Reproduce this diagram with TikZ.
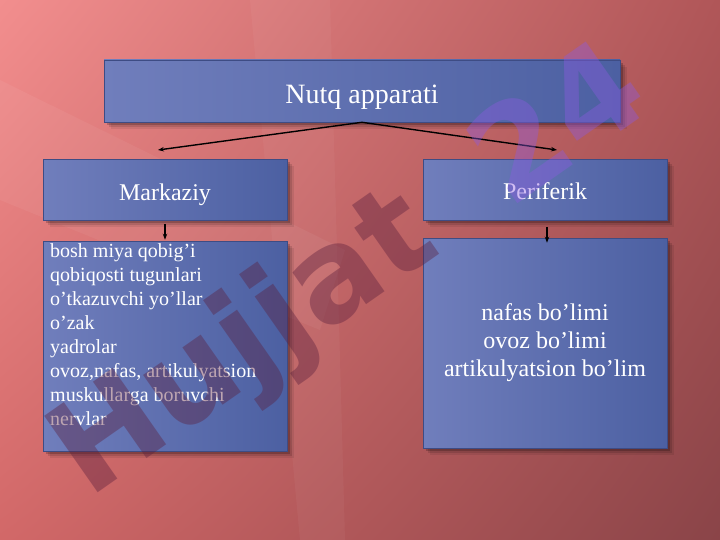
\documentclass[tikz,border=0pt]{standalone}
\usepackage{fontspec}
\setmainfont{Liberation Serif}
\newfontfamily\wmfont{DejaVu Sans}
\usetikzlibrary{arrows.meta,shadows,shadings}
\definecolor{bgUL}{RGB}{242,142,142}
\definecolor{bgUR}{RGB}{176,86,88}
\definecolor{bgLL}{RGB}{210,104,104}
\definecolor{bgLR}{RGB}{138,68,72}
\definecolor{boxL}{RGB}{112,126,188}
\definecolor{boxR}{RGB}{76,96,162}
\definecolor{boxedge}{RGB}{62,76,132}
\definecolor{wmred}{RGB}{90,30,60}
\definecolor{wmpurple}{RGB}{140,90,225}
\begin{document}
\begin{tikzpicture}[x=1pt,y=-1pt,
  box/.style={draw=boxedge, line width=0.6pt, left color=boxL, right color=boxR,
    inner sep=0pt,
    drop shadow={shadow xshift=7pt, shadow yshift=-7pt, opacity=0.08, fill=black},
    drop shadow={shadow xshift=5pt, shadow yshift=-5pt, opacity=0.12, fill=black},
    drop shadow={shadow xshift=3pt, shadow yshift=-3pt, opacity=0.2, fill=black}},
  lbl/.style={text=white, inner sep=0pt, font=\fontsize{24}{28}\selectfont},
  arr/.style={-{Stealth[length=6pt,width=4.5pt]}, line width=1.4pt, black},
  wm/.style={inner sep=0pt, font=\wmfont\bfseries\fontsize{128}{128}\selectfont}]
\useasboundingbox (0,0) rectangle (720,540);
\shade[upper left=bgUL, upper right=bgUR, lower left=bgLL, lower right=bgLR]
  (0,0) rectangle (720,540);
\fill[white, opacity=0.05] (0,80) -- (0,200) -- (320,330) -- (345,250) -- cycle;
\fill[white, opacity=0.04] (250,0) -- (330,0) -- (345,540) -- (300,540) -- cycle;

% top box
\node[box, minimum width=516pt, minimum height=62pt] (top) at (362,91) {};
\node[lbl, anchor=base, font=\fontsize{28}{32}\selectfont] (toplbl) at (362,104) {Nutq apparati};

% second level
\node[box, minimum width=244pt, minimum height=61pt] (mk) at (165,190) {};
\node[lbl, anchor=base] (mklbl) at (165,201) {Markaziy};
\node[box, minimum width=244pt, minimum height=61pt] (pf) at (545,190) {};
\node[lbl, anchor=base] (pflbl) at (545,200) {Periferik};

% third level
\node[box, minimum width=244pt, minimum height=210pt] (mkb) at (165,346) {};
\node[anchor=north west, inner sep=0pt, text=white, align=left,
  font=\fontsize{20}{24.1}\selectfont] (mktext) at (50,243)
  {bosh miya qobig’i\\qobiqosti tugunlari\\o’tkazuvchi yo’llar\\o’zak\\yadrolar\\ovoz,nafas, artikulyatsion\\muskullarga boruvchi\\nervlar};
\node[box, minimum width=244pt, minimum height=210pt, align=center, text=white,
  font=\fontsize{24}{28}\selectfont] (pfb) at (545,343)
  {nafas bo’limi\\ovoz bo’limi\\artikulyatsion bo’lim};

% connectors
\coordinate (lEnd) at (158,150);
\coordinate (rEnd) at (557,150);
\draw[arr] (top.south) -- (lEnd);
\draw[arr] (top.south) -- (rEnd);
\draw[arr] ([yshift=-3pt]mk.south) -- ([yshift=1pt]mkb.north);
\draw[arr] ([xshift=2pt,yshift=-6pt]pf.south) -- ([xshift=2pt,yshift=-5pt]pfb.north);

% watermark
\node[wm, anchor=base west, rotate=35, text=wmred, text opacity=0.4] (wm1) at (88,500) {Hujjat};
\node[wm, rotate=35, text=wmpurple, text opacity=0.4] (wm2) at (555,120) {24};
\end{tikzpicture}
\end{document}
